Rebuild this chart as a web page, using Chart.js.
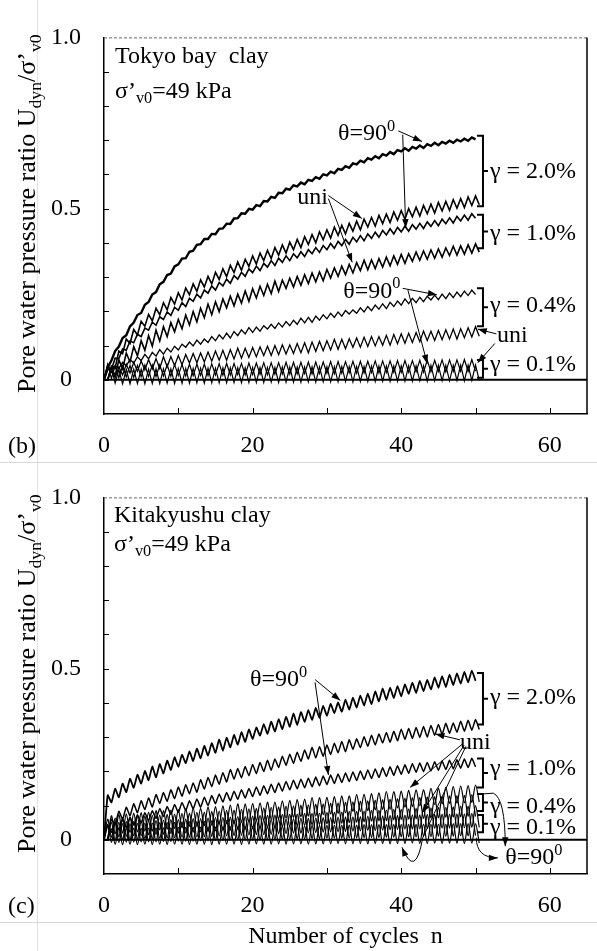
<!DOCTYPE html>
<html>
<head>
<meta charset="utf-8">
<script src="https://cdn.jsdelivr.net/npm/chart.js@4.4.0/dist/chart.umd.min.js"></script>
<style>
  html, body { margin: 0; padding: 0; background: #fff; }
  #wrap { position: relative; width: 597px; height: 951px; }
  .panel { position: absolute; left: 0; width: 597px; }
  #p1 { top: 0; height: 460px; }
  #p2 { top: 460px; height: 491px; }
</style>
</head>
<body>
<div id="wrap">
  <div class="panel" id="p1"><canvas id="chartB"></canvas></div>
  <div class="panel" id="p2"><canvas id="chartC"></canvas></div>
</div>
<script>
// Pore water pressure ratio.
// Troughs sit at whole cycles n = 0..50, peaks at n + 0.5 (n = 0..49).

// (b) Tokyo bay clay
const tokyo20ThetaTrough = [0, .056, .097, .130, .167, .195, .227, .256, .286, .310, .337, .355, .377, .396, .411, .425, .442, .455, .472, .485, .497, .507, .521, .531, .545, .555, .565, .571, .581, .587, .597, .603, .613, .619, .629, .635, .643, .647, .655, .659, .667, .669, .675, .677, .683, .685, .690, .692, .696, .698, .702];
const tokyo20ThetaPeak = [.036, .084, .122, .156, .189, .219, .249, .279, .306, .331, .354, .374, .394, .411, .426, .441, .456, .471, .486, .499, .510, .522, .534, .546, .558, .568, .576, .584, .592, .600, .608, .616, .624, .632, .640, .647, .653, .659, .665, .671, .676, .680, .684, .688, .692, .695, .698, .701, .704, .708];
const tokyo20UniTrough = [0, .035, .076, .106, .131, .156, .172, .190, .204, .221, .233, .248, .258, .271, .280, .293, .301, .313, .320, .331, .338, .348, .354, .364, .370, .380, .386, .395, .400, .409, .414, .422, .426, .434, .438, .446, .449, .456, .459, .466, .469, .476, .478, .485, .487, .493, .495, .501, .503, .509, .511];
const tokyo20UniPeak = [.040, .084, .119, .147, .171, .191, .209, .225, .240, .254, .268, .280, .292, .302, .314, .324, .334, .344, .352, .362, .370, .378, .386, .394, .402, .410, .418, .424, .432, .438, .446, .451, .457, .463, .469, .474, .480, .484, .490, .494, .500, .504, .509, .513, .518, .521, .526, .529, .534, .537];
const tokyo10ThetaTrough = [0, .030, .062, .086, .108, .126, .145, .159, .176, .188, .203, .214, .229, .239, .253, .262, .274, .282, .294, .302, .313, .319, .329, .334, .343, .348, .356, .360, .368, .372, .380, .384, .392, .396, .403, .406, .413, .416, .423, .426, .432, .434, .440, .442, .448, .450, .456, .458, .464, .466, .472];
const tokyo10ThetaPeak = [.030, .063, .090, .113, .133, .151, .168, .184, .198, .212, .225, .238, .250, .262, .274, .284, .294, .304, .314, .324, .332, .340, .348, .355, .362, .368, .374, .380, .386, .392, .398, .404, .410, .416, .421, .426, .431, .436, .441, .445, .449, .453, .457, .461, .465, .469, .473, .477, .481, .485];
const tokyo10UniTrough = [0, .012, .032, .052, .070, .086, .098, .113, .126, .140, .149, .160, .169, .181, .190, .199, .210, .216, .224, .229, .239, .246, .252, .258, .267, .271, .276, .281, .286, .289, .297, .302, .307, .312, .319, .321, .325, .329, .333, .337, .340, .346, .349, .352, .355, .358, .363, .364, .367, .370, .373];
const tokyo10UniPeak = [.035, .058, .078, .097, .114, .129, .145, .155, .167, .176, .189, .199, .209, .221, .228, .236, .244, .250, .259, .266, .273, .279, .288, .291, .297, .302, .307, .312, .315, .322, .327, .332, .337, .342, .349, .350, .354, .358, .362, .366, .368, .373, .376, .379, .382, .385, .390, .391, .394, .397];
const tokyo04ThetaTrough = [0, .022, .033, .041, .049, .056, .061, .069, .075, .081, .087, .095, .099, .104, .109, .114, .119, .122, .129, .134, .138, .142, .148, .150, .154, .158, .162, .166, .168, .174, .178, .182, .186, .192, .194, .198, .202, .206, .208, .214, .218, .222, .225, .228, .233, .234, .237, .240, .243, .246, .249];
const tokyo04ThetaPeak = [.045, .042, .051, .059, .067, .074, .080, .088, .092, .098, .104, .110, .116, .119, .126, .131, .136, .141, .146, .152, .154, .158, .162, .166, .170, .174, .180, .182, .186, .190, .194, .198, .202, .204, .210, .214, .218, .222, .226, .230, .236, .238, .241, .244, .247, .250, .253, .256, .259, .262];
const tokyo04UniTrough = [0, .006, .014, .020, .025, .029, .032, .033, .038, .041, .044, .049, .050, .052, .054, .057, .057, .061, .063, .065, .067, .071, .071, .073, .075, .077, .079, .079, .083, .085, .087, .089, .091, .095, .095, .097, .099, .101, .101, .105, .107, .109, .111, .115, .115, .117, .119, .119, .123, .125, .127];
const tokyo04UniPeak = [.035, .038, .045, .051, .055, .059, .062, .067, .068, .071, .074, .077, .078, .081, .084, .086, .088, .092, .092, .094, .096, .098, .100, .102, .102, .106, .108, .110, .112, .114, .118, .118, .120, .122, .124, .126, .126, .130, .132, .134, .136, .138, .142, .142, .144, .146, .148, .149, .152, .155];
const tokyo01ThetaTrough = [0, .004, .006, .008, .007, .009, .010, .009, .011, .010, .012, .011, .012, .013, .012, .014, .013, .014, .015, .014, .015, .016, .015, .016, .017, .016, .017, .018, .017, .018, .019, .018, .019, .020, .019, .020, .021, .020, .021, .022, .021, .022, .023, .022, .023, .024, .023, .024, .025, .024, .025];
const tokyo01ThetaPeak = [.045, .040, .041, .042, .042, .043, .043, .044, .044, .045, .045, .046, .046, .046, .047, .047, .048, .048, .048, .049, .049, .050, .050, .050, .051, .051, .051, .052, .052, .052, .053, .053, .053, .054, .054, .054, .055, .055, .055, .056, .056, .056, .057, .057, .057, .058, .058, .058, .059, .059];
const tokyo01UniTrough = [0, -.010, -.012, -.012, -.011, -.012, -.011, -.011, -.010, -.011, -.010, -.010, -.009, -.010, -.009, -.009, -.009, -.008, -.009, -.008, -.008, -.008, -.007, -.008, -.007, -.007, -.007, -.006, -.007, -.006, -.006, -.006, -.005, -.006, -.005, -.005, -.005, -.004, -.005, -.004, -.004, -.004, -.003, -.004, -.003, -.003, -.003, -.002, -.003, -.002, -.002];
const tokyo01UniPeak = [.035, .030, .030, .031, .031, .031, .032, .032, .032, .033, .033, .033, .034, .034, .034, .035, .035, .035, .035, .036, .036, .036, .036, .037, .037, .037, .037, .038, .038, .038, .038, .039, .039, .039, .039, .040, .040, .040, .040, .041, .041, .041, .041, .042, .042, .042, .042, .043, .043, .043];

// (c) Kitakyushu clay
const kita20ThetaTrough = [0, .109, .124, .139, .152, .164, .174, .182, .194, .204, .213, .224, .230, .238, .246, .254, .260, .270, .278, .286, .294, .304, .309, .316, .323, .330, .335, .344, .350, .356, .362, .370, .374, .380, .386, .392, .396, .404, .409, .414, .419, .426, .429, .434, .439, .444, .446, .452, .456, .460, .464];
const kita20ThetaPeak = [.130, .149, .164, .178, .190, .201, .214, .221, .231, .241, .248, .258, .266, .274, .282, .293, .298, .306, .314, .322, .328, .338, .345, .352, .359, .369, .373, .379, .385, .391, .397, .401, .409, .415, .421, .427, .433, .442, .444, .449, .454, .459, .464, .467, .474, .478, .482, .486, .490, .494];
const kita20UniTrough = [0, .045, .060, .070, .079, .088, .096, .106, .112, .120, .127, .134, .139, .148, .155, .162, .169, .177, .181, .187, .193, .199, .203, .211, .217, .223, .229, .236, .239, .244, .249, .254, .257, .264, .269, .273, .277, .283, .285, .289, .293, .296, .299, .300, .305, .308, .311, .314, .317, .320, .322];
const kita20UniPeak = [.060, .083, .095, .105, .114, .122, .132, .138, .146, .154, .161, .166, .175, .182, .189, .196, .205, .208, .214, .220, .226, .232, .236, .244, .250, .256, .262, .270, .272, .277, .282, .287, .292, .295, .301, .305, .309, .313, .317, .323, .325, .328, .331, .334, .337, .340, .341, .346, .349, .351];
const kita10ThetaTrough = [0, .022, .029, .036, .043, .050, .056, .062, .068, .074, .080, .085, .090, .095, .100, .105, .110, .114, .118, .122, .126, .130, .134, .138, .142, .146, .149, .152, .155, .158, .161, .164, .167, .170, .173, .176, .179, .182, .185, .188, .191, .194, .197, .199, .201, .203, .205, .207, .209, .211, .213];
const kita10ThetaPeak = [.040, .052, .059, .066, .073, .079, .085, .091, .097, .103, .109, .114, .119, .124, .129, .134, .138, .142, .146, .150, .154, .158, .162, .166, .170, .174, .177, .180, .183, .186, .189, .192, .195, .198, .201, .204, .207, .210, .213, .216, .219, .222, .224, .226, .228, .230, .232, .234, .236, .238];
const kita10UniTrough = [0, .017, .019, .021, .023, .025, .025, .029, .031, .033, .035, .039, .039, .041, .043, .045, .047, .047, .051, .053, .055, .057, .061, .061, .063, .065, .067, .069, .069, .073, .075, .077, .079, .083, .083, .085, .087, .089, .089, .093, .095, .097, .099, .103, .103, .105, .106, .107, .108, .109, .110];
const kita10UniPeak = [.070, .074, .076, .078, .079, .081, .085, .085, .087, .088, .090, .092, .092, .096, .097, .099, .101, .105, .105, .106, .108, .110, .110, .114, .115, .117, .119, .123, .123, .124, .126, .128, .128, .132, .133, .135, .137, .141, .141, .142, .144, .146, .146, .150, .151, .153, .155, .157, .158, .160];
const kita04ThetaTrough = [0, .007, .008, .010, .011, .012, .014, .015, .016, .018, .019, .020, .022, .023, .024, .026, .027, .028, .030, .031, .032, .034, .035, .036, .038, .039, .040, .042, .043, .044, .046, .047, .048, .050, .051, .052, .054, .055, .056, .058, .059, .060, .061, .062, .063, .064, .065, .066, .067, .068, .068];
const kita04ThetaPeak = [.060, .063, .065, .066, .068, .069, .071, .072, .074, .075, .077, .078, .080, .081, .083, .084, .086, .087, .089, .090, .092, .093, .095, .096, .098, .099, .101, .102, .104, .105, .107, .108, .110, .111, .113, .114, .116, .117, .119, .120, .122, .123, .124, .125, .126, .127, .128, .129, .130, .132];
const kita04UniTrough = [0, -.001, .000, .001, .002, .003, .003, .004, .005, .006, .007, .007, .008, .009, .010, .011, .011, .012, .013, .014, .015, .015, .016, .017, .018, .019, .019, .020, .021, .022, .023, .023, .024, .025, .026, .027, .027, .028, .029, .030, .031, .031, .032, .033, .033, .034, .034, .035, .035, .036, .036];
const kita04UniPeak = [.050, .051, .053, .053, .054, .056, .056, .057, .059, .059, .060, .062, .062, .063, .065, .065, .066, .068, .068, .069, .071, .071, .072, .074, .074, .075, .077, .077, .078, .080, .080, .081, .083, .083, .084, .086, .086, .087, .089, .089, .090, .092, .092, .093, .095, .095, .096, .098, .098, .100];
const kita01ThetaTrough = [0, -.008, -.008, -.007, -.007, -.006, -.006, -.006, -.005, -.005, -.004, -.004, -.004, -.003, -.003, -.002, -.002, -.002, -.001, -.001, .000, .000, .000, .001, .001, .002, .002, .002, .003, .003, .004, .004, .004, .005, .005, .006, .006, .006, .007, .007, .008, .008, .008, .009, .009, .010, .010, .010, .011, .011, .012];
const kita01ThetaPeak = [.045, .046, .047, .047, .048, .049, .049, .050, .051, .051, .052, .053, .053, .054, .055, .055, .056, .057, .057, .058, .059, .059, .060, .061, .061, .062, .063, .063, .064, .065, .065, .066, .067, .067, .068, .069, .069, .070, .071, .071, .072, .073, .073, .074, .074, .075, .075, .076, .076, .077];
const kita01UniTrough = [0, -.013, -.014, -.013, -.014, -.013, -.014, -.013, -.014, -.013, -.013, -.014, -.013, -.013, -.014, -.013, -.013, -.013, -.014, -.013, -.012, -.013, -.013, -.012, -.013, -.012, -.012, -.013, -.012, -.012, -.012, -.011, -.012, -.012, -.011, -.012, -.011, -.011, -.012, -.011, -.011, -.010, -.011, -.011, -.010, -.011, -.010, -.010, -.011, -.010, -.010];
const kita01UniPeak = [.032, .033, .033, .034, .034, .034, .035, .035, .035, .036, .036, .036, .037, .037, .037, .038, .038, .038, .039, .039, .039, .040, .040, .040, .041, .041, .041, .042, .042, .042, .043, .043, .043, .043, .044, .044, .044, .044, .045, .045, .045, .045, .046, .046, .046, .046, .047, .047, .047, .047];

const yTickLabels = { '10': '1.0', '5': '0.5', '0': '0' };
const xTickLabels = [0, 20, 40, 60];

const SERIF = '"Liberation Serif", "Times New Roman", Times, serif';

// uni tests are drawn half a cycle later so the waves braid like the original
function zig(troughs, peaks, shift) {
  const pts = [];
  troughs.forEach((t, i) => {
    pts.push({ x: i + shift, y: t });
    if (i < peaks.length) pts.push({ x: i + 0.5 + shift, y: peaks[i] });
  });
  return pts;
}

function rich(ctx, parts, x, y, size, measureOnly) {
  let cx = x;
  parts.forEach(([s, k]) => {
    const fs = k ? size * 0.68 : size;
    ctx.font = fs + 'px ' + SERIF;
    const dy = k === 'sub' ? size * 0.22 : k === 'sup' ? -size * 0.4 : 0;
    if (!measureOnly) ctx.fillText(s, cx, y + dy);
    cx += ctx.measureText(s).width;
  });
  return cx - x;
}

function head(ctx, x1, y1, x2, y2) {
  const a = Math.atan2(y2 - y1, x2 - x1), L = 9, W = 3.2;
  ctx.beginPath();
  ctx.moveTo(x2, y2);
  ctx.lineTo(x2 - L * Math.cos(a) + W * Math.sin(a), y2 - L * Math.sin(a) - W * Math.cos(a));
  ctx.lineTo(x2 - L * Math.cos(a) - W * Math.sin(a), y2 - L * Math.sin(a) + W * Math.cos(a));
  ctx.closePath();
  ctx.fill();
}

function helpers(chart) {
  const sx = chart.scales.x, sy = chart.scales.y;
  const X = v => sx.getPixelForValue(v), Y = v => sy.getPixelForValue(v);
  const ctx = chart.ctx;
  return {
    ctx, X, Y,
    text(parts, n, v, size) { rich(ctx, parts, X(n), Y(v), size || 24); },
    arrow(n1, v1, n2, v2) {
      ctx.lineWidth = 1;
      ctx.beginPath(); ctx.moveTo(X(n1), Y(v1)); ctx.lineTo(X(n2), Y(v2)); ctx.stroke();
      head(ctx, X(n1), Y(v1), X(n2), Y(v2));
    },
    bracket(n, v1, v2, label, vText) {
      const x = X(n), y1 = Y(v1), y2 = Y(v2), ym = (y1 + y2) / 2;
      ctx.lineWidth = 2;
      ctx.beginPath();
      ctx.moveTo(x - 6, y1); ctx.lineTo(x, y1); ctx.lineTo(x, y2); ctx.lineTo(x - 6, y2);
      ctx.moveTo(x, ym); ctx.lineTo(x + 5, ym);
      ctx.stroke();
      rich(ctx, [[label]], x + 7, Y(vText), 24);
    }
  };
}

function frame(chart, letter) {
  const ctx = chart.ctx, a = chart.chartArea;
  const sx = chart.scales.x, sy = chart.scales.y;
  ctx.save();
  ctx.fillStyle = '#000';
  // faint edge of the pasted axis-title strip
  ctx.strokeStyle = '#e2e2e2';
  ctx.lineWidth = 1;
  ctx.beginPath(); ctx.moveTo(37.5, 0); ctx.lineTo(37.5, chart.height); ctx.stroke();
  // top edge dashed, right edge solid
  ctx.strokeStyle = '#666';
  ctx.setLineDash([3, 2]);
  ctx.beginPath(); ctx.moveTo(a.left, a.top + 0.5); ctx.lineTo(a.right, a.top + 0.5); ctx.stroke();
  ctx.setLineDash([]);
  ctx.strokeStyle = '#000';
  ctx.lineWidth = 1.5;
  ctx.beginPath(); ctx.moveTo(a.right, a.top); ctx.lineTo(a.right, a.bottom); ctx.stroke();
  // zero line
  ctx.lineWidth = 2;
  ctx.beginPath(); ctx.moveTo(a.left, sy.getPixelForValue(0)); ctx.lineTo(a.right, sy.getPixelForValue(0)); ctx.stroke();
  // inward tick marks
  ctx.lineWidth = 1;
  sy.ticks.forEach(t => {
    if (t.value <= sy.min + 1e-9 || t.value >= sy.max - 1e-9) return;
    const y = Math.round(sy.getPixelForValue(t.value)) + 0.5;
    ctx.beginPath(); ctx.moveTo(a.left, y); ctx.lineTo(a.left + 5, y); ctx.stroke();
  });
  sx.ticks.forEach(t => {
    if (t.value <= sx.min || t.value >= sx.max) return;
    const x = Math.round(sx.getPixelForValue(t.value)) + 0.5;
    ctx.beginPath(); ctx.moveTo(x, a.bottom); ctx.lineTo(x, a.bottom - 6); ctx.stroke();
  });
  // y axis title
  const parts = [['Pore water pressure ratio U'], ['dyn', 'sub'], ['/σ’'], ['v0', 'sub']];
  const size = 26;
  const w = rich(ctx, parts, 0, 0, size, true);
  ctx.save();
  ctx.translate(35, (a.top + a.bottom) / 2 - 12);
  ctx.rotate(-Math.PI / 2);
  rich(ctx, parts, -w / 2, 0, size);
  ctx.restore();
  // panel letter
  rich(ctx, [[letter]], 8, 453, 24);
  ctx.restore();
}

function decorTokyo(chart) {
  frame(chart, '(b)');
  const h = helpers(chart), ctx = h.ctx;
  ctx.save();
  ctx.fillStyle = '#000';
  ctx.strokeStyle = '#000';
  h.text([['Tokyo bay  clay']], 1.48, 0.925);
  h.text([['σ’'], ['v0', 'sub'], ['=49 kPa']], 1.48, 0.824);
  h.text([['θ=90'], ['0', 'sup']], 31.5, 0.699);
  h.arrow(39.6, 0.727, 42.8, 0.696);
  h.arrow(40.2, 0.716, 40.6, 0.443);
  h.text([['uni']], 26.0, 0.513);
  h.arrow(30.2, 0.538, 34.7, 0.471);
  h.arrow(30.2, 0.529, 33.4, 0.343);
  h.bracket(51.0, 0.713, 0.507, 'γ = 2.0%', 0.588);
  h.bracket(51.0, 0.482, 0.384, 'γ = 1.0%', 0.409);
  h.bracket(51.0, 0.267, 0.156, 'γ = 0.4%', 0.198);
  h.bracket(51.0, 0.058, 0.006, 'γ = 0.1%', 0.025);
  h.text([['θ=90'], ['0', 'sup']], 32.2, 0.240);
  h.arrow(40.2, 0.267, 44.8, 0.248);
  h.arrow(40.9, 0.262, 43.5, 0.047);
  h.text([['uni']], 52.9, 0.109);
  h.arrow(52.8, 0.134, 50.3, 0.148);
  h.arrow(52.6, 0.106, 50.3, 0.050);
  ctx.restore();
}

function decorKita(chart) {
  frame(chart, '(c)');
  const h = helpers(chart), ctx = h.ctx, X = h.X, Y = h.Y;
  ctx.save();
  ctx.fillStyle = '#000';
  // light separators between and below the panels
  ctx.strokeStyle = '#d6d6d6';
  ctx.lineWidth = 1;
  ctx.beginPath(); ctx.moveTo(0, 2.5); ctx.lineTo(597, 2.5); ctx.stroke();
  ctx.beginPath(); ctx.moveTo(0, 462.5); ctx.lineTo(597, 462.5); ctx.stroke();
  ctx.strokeStyle = '#000';
  h.text([['Kitakyushu clay']], 1.35, 0.928);
  h.text([['σ’'], ['v0', 'sub'], ['=49 kPa']], 1.35, 0.844);
  h.text([['θ=90'], ['0', 'sup']], 19.65, 0.448);
  h.arrow(28.4, 0.468, 31.8, 0.407);
  h.arrow(28.4, 0.460, 30.2, 0.189);
  h.text([['uni']], 47.9, 0.265);
  h.arrow(47.9, 0.292, 44.6, 0.309);
  h.arrow(48.2, 0.279, 41.2, 0.153);
  h.arrow(48.45, 0.276, 42.8, 0.078);
  // curled arrow from "uni" down under the zero line
  ctx.lineWidth = 1;
  ctx.beginPath();
  ctx.moveTo(X(48.7), Y(0.273));
  ctx.lineTo(X(42.9), Y(0.006));
  ctx.quadraticCurveTo(X(41.9), Y(-0.117), X(40.1), Y(-0.022));
  ctx.stroke();
  head(ctx, X(41.9), Y(-0.117), X(40.1), Y(-0.022));
  h.bracket(51.0, 0.487, 0.337, 'γ = 2.0%', 0.398);
  h.bracket(51.0, 0.237, 0.153, 'γ = 1.0%', 0.189);
  h.bracket(51.0, 0.134, 0.084, 'γ = 0.4%', 0.078);
  h.bracket(51.0, 0.072, 0.022, 'γ = 0.1%', 0.017);
  // θ=90 below the zero line with its two curved arrows
  h.text([['θ=90'], ['0', 'sup']], 54.0, -0.072);
  ctx.lineWidth = 1;
  ctx.beginPath();
  ctx.moveTo(X(51.0), Y(0.134));
  ctx.lineTo(X(52.4), Y(0.136));
  ctx.quadraticCurveTo(X(54.0), Y(0.12), X(54.0), Y(-0.019));
  ctx.stroke();
  head(ctx, X(54.0), Y(0.05), X(54.0), Y(-0.019));
  ctx.beginPath();
  ctx.moveTo(X(50.1), Y(0.006));
  ctx.quadraticCurveTo(X(50.1), Y(-0.053), X(53.0), Y(-0.053));
  ctx.stroke();
  head(ctx, X(50.1), Y(-0.053), X(53.0), Y(-0.053));
  // x axis title
  ctx.textAlign = 'center';
  ctx.font = '24px ' + SERIF;
  ctx.fillText('Number of cycles  n', (chart.chartArea.left + chart.chartArea.right) / 2, 483);
  ctx.restore();
}

function makeChart(id, series, decorate) {
  return new Chart(document.getElementById(id), {
    type: 'line',
    data: {
      datasets: series.map(s => ({
        label: s.label,
        data: zig(s.troughs, s.peaks, s.shift),
        borderColor: '#000',
        borderWidth: s.width,
        pointRadius: 0,
        fill: false,
        tension: s.tension
      }))
    },
    options: {
      responsive: true,
      maintainAspectRatio: false,
      animation: false,
      devicePixelRatio: 1,
      events: [],
      layout: { padding: { top: 19, right: 10, left: 0, bottom: 0 } },
      plugins: { legend: { display: false }, tooltip: { enabled: false } },
      scales: {
        x: {
          type: 'linear', min: 0, max: 65,
          grid: { display: false, drawTicks: false },
          border: { display: true, color: '#000', width: 1.5 },
          ticks: {
            stepSize: 10, autoSkip: false, maxRotation: 0, includeBounds: false, padding: 17,
            color: '#000', font: { family: SERIF, size: 24 },
            callback: v => xTickLabels.includes(v) ? String(v) : ''
          },
          afterFit: s => { s.height = s.chart.height - 414; }
        },
        y: {
          min: -0.1, max: 1.0,
          grid: { display: false, drawTicks: false },
          border: { display: true, color: '#000', width: 1.5 },
          ticks: {
            stepSize: 0.1, autoSkip: false, padding: 23, crossAlign: 'center',
            color: '#000', font: { family: SERIF, size: 24 },
            callback: v => yTickLabels[String(Math.round(v * 10))] || ''
          },
          afterFit: s => { s.width = 104; }
        }
      }
    },
    plugins: [{ id: 'decor', afterDraw: decorate }]
  });
}

makeChart('chartB', [
  { label: 'γ=2.0% θ=90°', troughs: tokyo20ThetaTrough, peaks: tokyo20ThetaPeak, shift: 0, width: 2.4, tension: 0 },
  { label: 'γ=2.0% uni', troughs: tokyo20UniTrough, peaks: tokyo20UniPeak, shift: 0.5, width: 1.6, tension: 0 },
  { label: 'γ=1.0% θ=90°', troughs: tokyo10ThetaTrough, peaks: tokyo10ThetaPeak, shift: 0, width: 1.6, tension: 0 },
  { label: 'γ=1.0% uni', troughs: tokyo10UniTrough, peaks: tokyo10UniPeak, shift: 0.5, width: 1.6, tension: 0 },
  { label: 'γ=0.4% θ=90°', troughs: tokyo04ThetaTrough, peaks: tokyo04ThetaPeak, shift: 0, width: 1.3, tension: 0 },
  { label: 'γ=0.4% uni', troughs: tokyo04UniTrough, peaks: tokyo04UniPeak, shift: 0.5, width: 1.3, tension: 0 },
  { label: 'γ=0.1% θ=90°', troughs: tokyo01ThetaTrough, peaks: tokyo01ThetaPeak, shift: 0, width: 1.2, tension: 0 },
  { label: 'γ=0.1% uni', troughs: tokyo01UniTrough, peaks: tokyo01UniPeak, shift: 0.5, width: 1.2, tension: 0 }
], decorTokyo);

makeChart('chartC', [
  { label: 'γ=2.0% θ=90°', troughs: kita20ThetaTrough, peaks: kita20ThetaPeak, shift: 0, width: 1.8, tension: 0.15 },
  { label: 'γ=2.0% uni', troughs: kita20UniTrough, peaks: kita20UniPeak, shift: 0.5, width: 1.5, tension: 0.15 },
  { label: 'γ=1.0% θ=90°', troughs: kita10ThetaTrough, peaks: kita10ThetaPeak, shift: 0, width: 1.5, tension: 0.15 },
  { label: 'γ=1.0% uni', troughs: kita10UniTrough, peaks: kita10UniPeak, shift: 0.5, width: 1.2, tension: 0.3 },
  { label: 'γ=0.4% θ=90°', troughs: kita04ThetaTrough, peaks: kita04ThetaPeak, shift: 0, width: 1.2, tension: 0.3 },
  { label: 'γ=0.4% uni', troughs: kita04UniTrough, peaks: kita04UniPeak, shift: 0.5, width: 1.2, tension: 0.3 },
  { label: 'γ=0.1% θ=90°', troughs: kita01ThetaTrough, peaks: kita01ThetaPeak, shift: 0, width: 1.2, tension: 0.3 },
  { label: 'γ=0.1% uni', troughs: kita01UniTrough, peaks: kita01UniPeak, shift: 0.5, width: 1.2, tension: 0.3 }
], decorKita);
</script>
</body>
</html>
